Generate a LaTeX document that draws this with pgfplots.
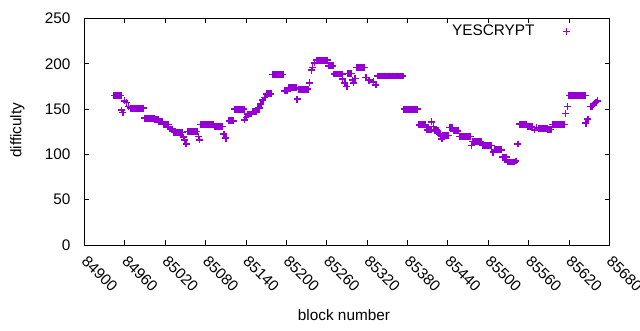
\documentclass[border=0pt]{standalone}
\usepackage{fontspec}
\setmainfont{Liberation Sans}
\usepackage{pgfplots}
\pgfplotsset{compat=1.18}
\definecolor{dv}{HTML}{9400D3}
\begin{document}
\fontsize{11.5}{13}\selectfont
\begin{tikzpicture}
\begin{axis}[
  at={(0,0)}, anchor=south west,
  scale only axis, width=393.7pt, height=169.9pt,
  xmin=84900, xmax=85680, ymin=0, ymax=250,
  xtick={84900,84960,...,85680},
  ytick={0,50,...,250},
  minor tick num=0,
  scaled x ticks=false,
  /pgf/number format/assume math mode=true,
  /pgf/number format/1000 sep={},
  tick align=inside, major tick length=3.5pt,
  axis line style={line width=0.75pt},
  every tick/.style={black, line width=0.75pt},
  tick label style={font=\fontsize{11.5}{13}\selectfont},
  xticklabel style={yshift=-10pt, rotate=-45, anchor=west, inner sep=0pt},
  yticklabel style={anchor=east, inner sep=0pt, xshift=-10.4pt},
  legend plot pos=right,
  legend image code/.code={\draw[#1] plot coordinates {(22pt,0pt)}; \path (0pt,0pt) (26pt,0pt);},
  legend style={draw=none, fill=none, inner sep=0pt, outer sep=0pt, anchor=east,
    at={(rel axis cs:1,1)}, xshift=-27.8pt, yshift=-9.9pt,
    font=\fontsize{11.5}{13}\selectfont},
]
\addplot[only marks, mark=+, mark size=2.6pt, color=dv, mark options={line width=1.05pt}] coordinates {
(84944,165) (84946,165) (84948,165) (84950,165) (84952,165) (84954,165)
(84955,149) (84957,146) (84959,159) (84962,157) (84965,153)
(84968,151) (84970,151) (84972,151) (84974,151) (84976,151) (84978,151) (84980,151) (84982,151) (84984,151) (84986,151) (84988,151)
(84989,140) (84991,140) (84993,140) (84995,140) (84997,140) (84999,140) (85001,140) (85003,140)
(85005,138) (85007,138) (85009,138) (85011,136) (85013,136) (85015,136)
(85017,133) (85019,133) (85021,133) (85023,133) (85025,133)
(85027,128) (85029,128) (85031,128)
(85033,124) (85035,124) (85037,124) (85039,124) (85041,124) (85043,124) (85045,124)
(85047,119) (85049,116) (85051,111.5)
(85053,125.5) (85055,125.5) (85057,125.5) (85059,125.5) (85061,125.5) (85063,125.5) (85065,125.5) (85067,125.5)
(85069,120) (85071,116)
(85073,133) (85075,133) (85077,133) (85079,133) (85081,133) (85083,133) (85085,133) (85087,133) (85089,133) (85091,133)
(85093,130.5) (85095,130.5) (85097,130.5) (85099,130.5) (85101,130.5) (85103,130.5) (85105,130.5)
(85107,122.5) (85110,118)
(85115,137) (85117,137) (85119,137) (85121,137)
(85123,150) (85125,150) (85127,150) (85129,150) (85131,150) (85133,150) (85135,150) (85137,150)
(85138,138) (85140,141)
(85142,144.6) (85144,144.6) (85146,144.6) (85148,144.6)
(85150,147) (85152,147) (85154,147) (85156,147) (85158,151) (85160,151)
(85162,155.6) (85165,160) (85168,163)
(85171,166.7) (85173,166.7) (85175,166.7) (85177,166.7)
(85179,188.4) (85181,188.4) (85183,188.4) (85185,188.4) (85187,188.4) (85189,188.4) (85191,188.4) (85193,188.4) (85195,188.4)
(85197,170) (85199,170) (85201,170)
(85203,173.6) (85205,173.6) (85207,173.6) (85209,173.6) (85211,173.6) (85213,173.6) (85215,173.6)
(85216,161)
(85218,172) (85220,172) (85222,172) (85224,172) (85226,172) (85228,172) (85230,172) (85232,172)
(85234,179) (85237,193) (85239,196) (85242,201)
(85245,204) (85247,204) (85249,204) (85251,204) (85253,204) (85255,204) (85257,204) (85259,204) (85261,204)
(85263,197.6) (85265,197.6) (85267,197.6) (85269,197.6)
(85271,188.7) (85273,188.7) (85275,188.7) (85277,188.7) (85279,188.7) (85281,188.7) (85283,188.7)
(85283,183) (85287,179) (85290,175)
(85291,189.5) (85293,189.5) (85295,189.5) (85297,189.5)
(85298,182) (85300,179) (85302,184)
(85304,196) (85306,196) (85308,196) (85310,196) (85312,196) (85314,196) (85316,196)
(85318,185) (85323,182) (85329,180) (85333,176.6)
(85335,186.5) (85337,186.5) (85339,186.5) (85341,186.5) (85343,186.5) (85345,186.5) (85347,186.5) (85349,186.5) (85351,186.5) (85353,186.5)
(85355,186.5) (85357,186.5) (85359,186.5) (85361,186.5) (85363,186.5) (85365,186.5) (85367,186.5) (85369,186.5) (85371,186.5) (85373,186.5)
(85375,150) (85377,150) (85379,150) (85381,150) (85383,150) (85385,150) (85387,150) (85389,150) (85391,150) (85393,150) (85395,150)
(85397,132.5) (85399,132.5) (85401,132.5) (85403,132.5) (85405,132.5) (85407,132.5)
(85409,127) (85411,127) (85413,127) (85415,127)
(85416,135.8) (85419,131) (85421,126) (85423,127) (85425,126) (85427,122.5)
(85429,121) (85431,117) (85433,121) (85435,121) (85437,121) (85439,121) (85441,121)
(85443,130) (85445,130) (85447,130)
(85449,126) (85451,126) (85453,126) (85455,126)
(85457,119.5) (85459,119.5) (85461,119.5) (85463,119.5) (85465,119.5) (85467,119.5) (85469,119.5) (85471,119.5) (85473,119.5)
(85475,110)
(85477,114) (85479,114) (85481,114) (85483,114) (85485,114) (85487,114) (85489,114)
(85491,109.6) (85493,109.6) (85495,109.6) (85497,109.6) (85499,109.6) (85501,109.6) (85503,109.6) (85505,109.6)
(85507,102.6)
(85509,105) (85511,105) (85513,105) (85515,105) (85517,105) (85519,105)
(85521,97) (85523,97) (85525,97) (85527,97)
(85529,91.6) (85531,91.6) (85533,91.6) (85535,91.6) (85537,91.6) (85539,91.6)
(85541,92.7) (85544,111.5)
(85547,133.5) (85549,133.5) (85551,133.5) (85553,133.5) (85555,133.5) (85557,133.5)
(85559,131) (85561,131) (85563,131) (85565,131)
(85569,127) (85572,130)
(85575,129) (85577,129) (85579,129) (85581,129) (85583,129) (85585,129) (85587,129)
(85589,127.7) (85591,127.7) (85593,127.7)
(85595,133) (85597,133) (85599,133) (85601,133) (85603,133) (85605,133) (85607,133) (85609,133) (85611,133) (85613,133)
(85615,145) (85618,152.6)
(85620,165) (85622,165) (85624,165) (85626,165) (85628,165) (85630,165) (85632,165) (85634,165) (85636,165) (85638,165) (85640,165) (85642,165) (85644,165)
(85645,134.6) (85648,139)
(85652,153) (85654,153) (85656,155) (85658,156) (85660,157) (85662,159)
};
\addlegendentry{YESCRYPT}
\end{axis}
\node[rotate=90] at (-50.25pt,86pt) {difficulty};
\node at (194.6pt,-52.5pt) {block number};
\pgfresetboundingbox
\path (-63.375pt,-63.75pt) rectangle (416.625pt,183.75pt);
\end{tikzpicture}
\end{document}
